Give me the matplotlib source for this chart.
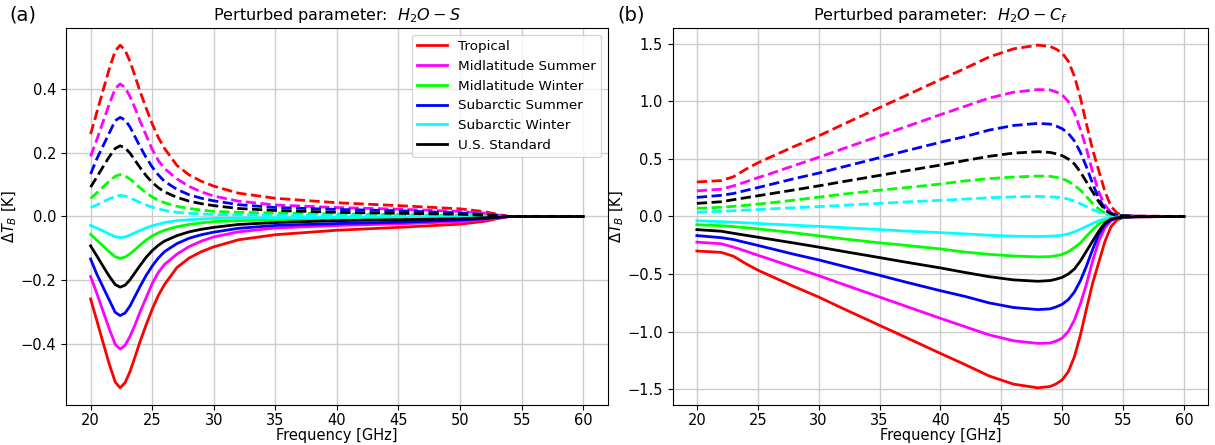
import matplotlib
matplotlib.use('Agg')
import matplotlib.pyplot as plt
import numpy as np

# profile names and colours
profiles = ['Tropical', 'Midlatitude Summer', 'Midlatitude Winter',
            'Subarctic Summer', 'Subarctic Winter', 'U.S. Standard']
colors = ['red', 'magenta', 'lime', 'blue', 'cyan', 'black']

# (a) H2O - S : negative response (dashed curves are the mirror image)
freq_a = [20, 20.5, 21, 21.5, 22, 22.4, 22.8, 23.2, 23.6, 24, 24.5, 25, 25.5, 26,
          27, 28, 29, 30, 32, 35, 40, 45, 50, 52, 53, 54, 55, 60]
trop_a = [-0.258, -0.325, -0.393, -0.46, -0.518, -0.536, -0.52, -0.485, -0.44, -0.393,
          -0.34, -0.29, -0.247, -0.213, -0.16, -0.13, -0.11, -0.095, -0.073, -0.057,
          -0.043, -0.034, -0.024, -0.015, -0.007, 0.0, 0.0, 0.0]
mls_a = [-0.188, -0.24, -0.295, -0.35, -0.40, -0.415, -0.403, -0.375, -0.34, -0.30,
         -0.255, -0.21, -0.175, -0.15, -0.118, -0.094, -0.077, -0.064, -0.048, -0.036,
         -0.028, -0.023, -0.016, -0.01, -0.005, 0.0, 0.0, 0.0]
mlw_a = [-0.056, -0.074, -0.092, -0.11, -0.126, -0.131, -0.127, -0.117, -0.104, -0.09,
         -0.074, -0.061, -0.051, -0.043, -0.032, -0.025, -0.02, -0.016, -0.013, -0.011,
         -0.008, -0.006, -0.004, -0.002, -0.001, 0.0, 0.0, 0.0]
sas_a = [-0.133, -0.18, -0.22, -0.26, -0.30, -0.31, -0.302, -0.28, -0.25, -0.22,
         -0.185, -0.155, -0.13, -0.11, -0.085, -0.068, -0.057, -0.049, -0.037, -0.028,
         -0.022, -0.018, -0.011, -0.007, -0.003, 0.0, 0.0, 0.0]
saw_a = [-0.028, -0.036, -0.045, -0.055, -0.063, -0.066, -0.064, -0.058, -0.051, -0.044,
         -0.036, -0.029, -0.024, -0.019, -0.013, -0.01, -0.008, -0.006, -0.005, -0.004,
         -0.003, -0.002, -0.001, 0.0, 0.0, 0.0, 0.0, 0.0]
uss_a = [-0.092, -0.123, -0.155, -0.186, -0.213, -0.221, -0.215, -0.198, -0.176, -0.154,
         -0.128, -0.107, -0.09, -0.077, -0.06, -0.048, -0.04, -0.034, -0.025, -0.019,
         -0.013, -0.01, -0.007, -0.004, -0.002, 0.0, 0.0, 0.0]

# (b) H2O - Cf
freq_b = [20, 22, 23, 24, 25, 26, 28, 30, 32, 35, 37, 40, 42, 44, 46, 48, 49, 49.5,
          50, 50.5, 51, 51.5, 52, 52.5, 53, 53.5, 54, 54.5, 55, 56, 60]
trop_b = [-0.30, -0.312, -0.345, -0.409, -0.466, -0.514, -0.609, -0.70, -0.80, -0.946,
          -1.043, -1.19, -1.286, -1.386, -1.457, -1.489, -1.478, -1.455, -1.42, -1.35,
          -1.22, -1.03, -0.80, -0.58, -0.40, -0.22, -0.09, -0.03, -0.009, -0.003, 0.0]
mls_b = [-0.223, -0.237, -0.266, -0.30, -0.337, -0.371, -0.443, -0.514, -0.589, -0.70,
         -0.774, -0.885, -0.957, -1.029, -1.08, -1.103, -1.10, -1.083, -1.057, -1.0,
         -0.90, -0.757, -0.586, -0.386, -0.214, -0.10, -0.037, -0.014, -0.006, -0.002, 0.0]
mlw_b = [-0.071, -0.08, -0.088, -0.097, -0.108, -0.118, -0.142, -0.168, -0.194, -0.229,
         -0.249, -0.282, -0.309, -0.329, -0.343, -0.351, -0.349, -0.341, -0.329, -0.306,
         -0.271, -0.229, -0.171, -0.114, -0.066, -0.031, -0.014, -0.006, -0.003, -0.001,
         0.0]
sas_b = [-0.166, -0.184, -0.20, -0.226, -0.251, -0.277, -0.329, -0.377, -0.431, -0.511,
         -0.566, -0.645, -0.694, -0.751, -0.791, -0.809, -0.803, -0.786, -0.763, -0.723,
         -0.657, -0.557, -0.429, -0.286, -0.157, -0.071, -0.029, -0.012, -0.006, -0.002,
         0.0]
saw_b = [-0.037, -0.045, -0.05, -0.055, -0.06, -0.066, -0.076, -0.086, -0.097, -0.114,
         -0.126, -0.14, -0.151, -0.163, -0.171, -0.174, -0.171, -0.168, -0.163, -0.151,
         -0.134, -0.111, -0.086, -0.06, -0.037, -0.02, -0.009, -0.005, -0.003, -0.001,
         0.0]
uss_b = [-0.114, -0.128, -0.146, -0.163, -0.18, -0.197, -0.231, -0.266, -0.303, -0.357,
         -0.394, -0.447, -0.486, -0.523, -0.551, -0.563, -0.557, -0.545, -0.529, -0.50,
         -0.457, -0.386, -0.30, -0.214, -0.129, -0.057, -0.023, -0.01, -0.006, -0.002,
         0.0]

curves_a = [trop_a, mls_a, mlw_a, sas_a, saw_a, uss_a]
curves_b = [trop_b, mls_b, mlw_b, sas_b, saw_b, uss_b]

fig = plt.figure(figsize=(12.15, 4.45), dpi=100)
ax1 = fig.add_axes([0.0543, 0.09, 0.446, 0.847])
ax2 = fig.add_axes([0.5535, 0.09, 0.441, 0.847])

for ax, freq, curves in [(ax1, freq_a, curves_a), (ax2, freq_b, curves_b)]:
    for name, col, vals in zip(profiles, colors, curves):
        vals = np.array(vals)
        ax.plot(freq, -vals, color=col, linestyle='--', linewidth=2)
        ax.plot(freq, vals, color=col, linestyle='-', linewidth=2, label=name)
    ax.grid(True, color='#cccccc', linewidth=1)
    ax.set_axisbelow(True)
    ax.set_xlabel('Frequency [GHz]', fontsize=10.5, labelpad=0)
    ax.set_ylabel(r'$\Delta T_B$ [K]', fontsize=10.5, labelpad=1)
    ax.tick_params(labelsize=10.5)
    ax.tick_params(axis='x', pad=2.5)

ax1.set_title(r'Perturbed parameter:  $H_2O - S$', fontsize=11.5)
ax2.set_title(r'Perturbed parameter:  $H_2O - C_f$', fontsize=11.5)
ax1.legend(loc='upper right', fontsize=9.7, handlelength=2.2)

fig.text(0.008, 0.955, '(a)', fontsize=14)
fig.text(0.508, 0.955, '(b)', fontsize=14)

plt.savefig('out.png', dpi=100)
